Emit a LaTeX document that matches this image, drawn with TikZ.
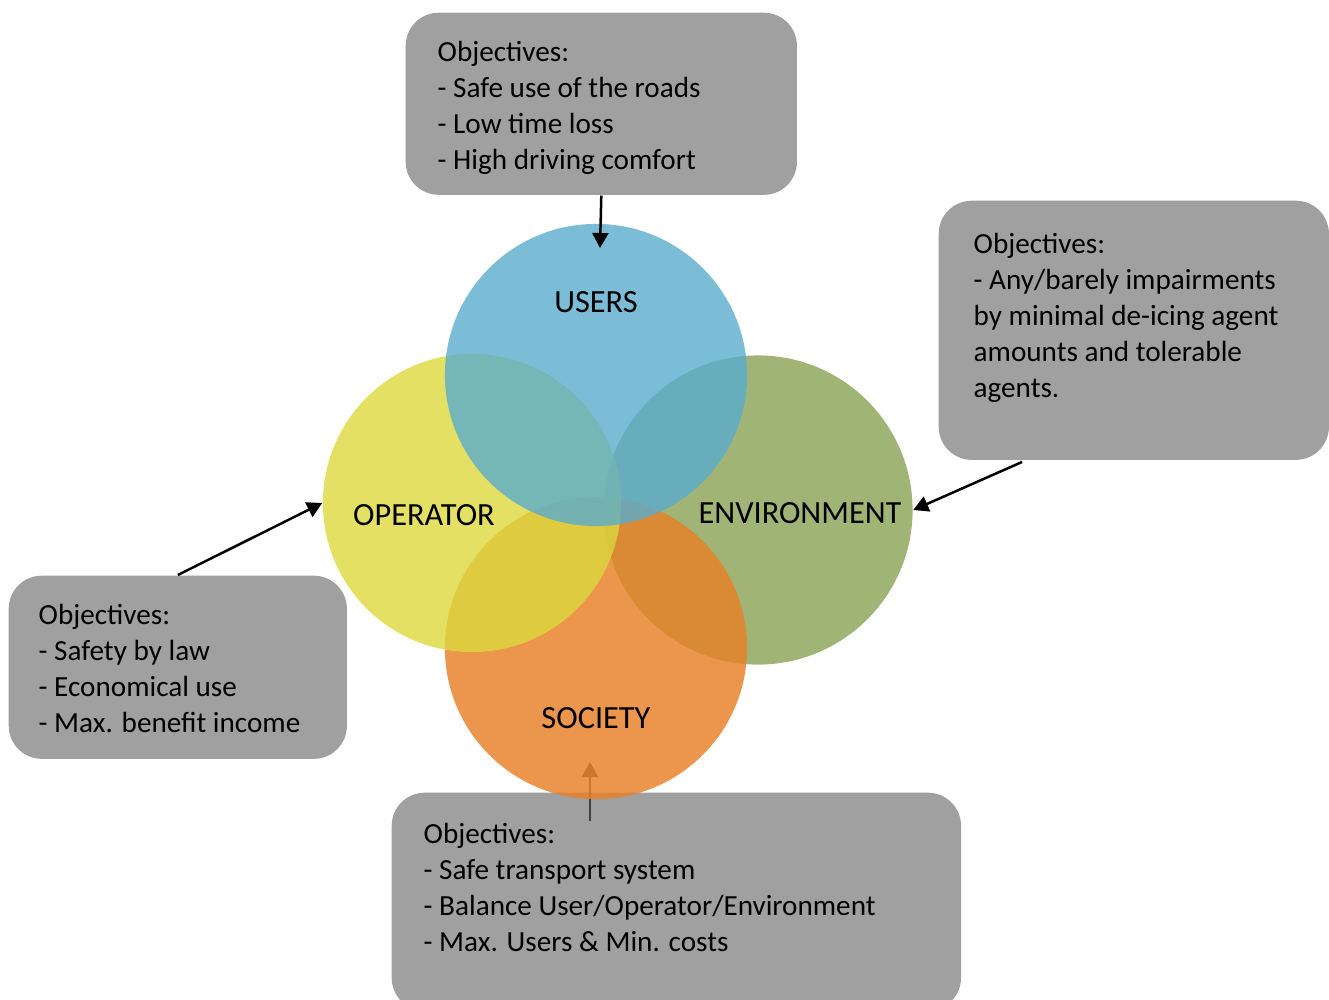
\documentclass[tikz,border=0pt]{standalone}
\usepackage{fontspec}
\setmainfont{Carlito}
\usetikzlibrary{arrows.meta}

\definecolor{boxgray}{HTML}{A0A0A0}
\definecolor{usersblue}{RGB}{90,172,205}
\definecolor{opyellow}{RGB}{221,216,61}
\definecolor{envgreen}{RGB}{136,161,84}
\definecolor{socorange}{RGB}{231,129,40}

\tikzset{
	objbox/.style={draw=none, fill=boxgray, rounded corners=0.33cm, inner sep=0pt, anchor=north west},
	objtext/.style={anchor=base west, align=left, inner sep=0pt, font=\fontsize{8.3}{10.2}\selectfont},
	venn/.style={circle, draw=none, fill opacity=0.8, inner sep=0pt},
	venntext/.style={anchor=base, inner sep=0pt, font=\fontsize{9.2}{11}\selectfont},
	pointer/.style={line width=0.25mm, -{Triangle[length=1.5mm,width=1.6mm]}}
}

\begin{document}
\begin{tikzpicture}[x=0.01cm, y=-0.01cm]
		%%%%% START %%%%%
		\useasboundingbox (0,0) rectangle (1329,999);
		\clip (0,0) rectangle (1329,999);
		
		% society box lies under the orange circle
		\node[objbox, minimum width=5.69cm, minimum height=2.18cm] (socobj) at (391,792) {};
		\node[objtext] (soctext) at (423,951) {Objectives:\\- Safe transport system\\- Balance User/Operator/Environment\\- Max. Users \& Min. costs};
		\coordinate (socfoot) at (590,821);
		\coordinate (soctip) at (590,762);
		\draw[pointer, color=black!75] (socfoot) -- (soctip);
		
		\node[objbox, minimum width=3.91cm, minimum height=1.82cm] (userobj) at (405,12) {};
		\node[objtext] (usertext) at (437,169) {Objectives:\\- Safe use of the roads\\- Low time loss\\- High driving comfort};
		
		\node[objbox, minimum width=3.90cm, minimum height=2.59cm] (envobj) at (938,200) {};
		\node[objtext] (envtext) at (973,397) {Objectives:\\- Any/barely impairments\\by minimal de-icing agent\\amounts and tolerable\\agents.};
		
		\node[objbox, minimum width=3.38cm, minimum height=1.83cm] (opobj) at (8,575) {};
		\node[objtext] (optext) at (38,732) {Objectives:\\- Safety by law\\- Economical use\\- Max. benefit income};
		
		% the four circles
		\node[venn, fill=envgreen, minimum size=3.09cm] (environment) at (758,510) {};
		\node[venn, fill=socorange, minimum size=3.02cm, fill opacity=0.83] (society) at (596,648) {};
		\node[venn, fill=opyellow, minimum size=2.98cm] (operator) at (472,503) {};
		\node[venn, fill=usersblue, minimum size=3.02cm] (users) at (596,375) {};
		
		\node[venntext] (userslabel) at (596,312) {USERS};
		\node[venntext] (oplabel) at (424,525) {OPERATOR};
		\node[venntext] (envlabel) at (800,523) {ENVIRONMENT};
		\node[venntext] (soclabel) at (596,728) {SOCIETY};
		
		% pointers from the boxes
		\coordinate (usertip) at (600,248);
		\draw[pointer] (userobj.south) -- (usertip);
		\draw[pointer] (opobj.north) -- (operator.west);
		\coordinate (envfoot) at (1022,462);
		\draw[pointer] (envfoot) -- (environment.east);
		
		%%%%% END %%%%%
	\end{tikzpicture}
\end{document}
